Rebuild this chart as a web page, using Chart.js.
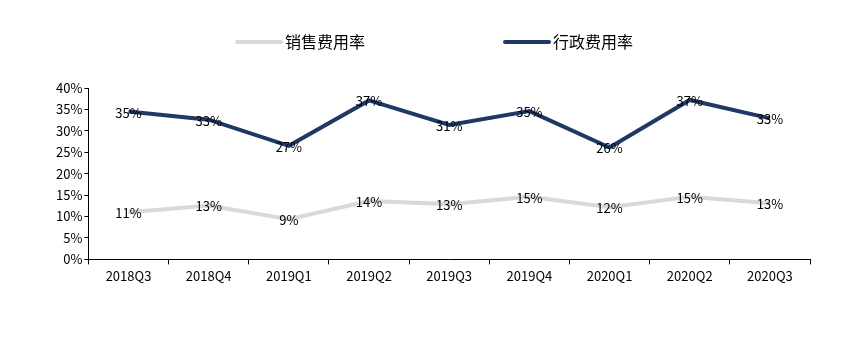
<!DOCTYPE html>
<html>
<head>
<meta charset="utf-8">
<script src="https://cdn.jsdelivr.net/npm/chart.js@4/dist/chart.umd.min.js"></script>
<style>
    html, body { margin: 0; padding: 0; background: #fff; }
    #wrap { width: 850px; height: 354px; }
</style>
</head>
<body>
<div id="wrap"><canvas id="lineChart"></canvas></div>
<script>
const quarters = ['2018Q3', '2018Q4', '2019Q1', '2019Q2', '2019Q3', '2019Q4', '2020Q1', '2020Q2', '2020Q3'];
const salesRate = [11.0, 12.6, 9.4, 13.6, 12.9, 14.6, 12.2, 14.6, 13.1];
const adminRate = [34.5, 32.6, 26.5, 37.1, 31.4, 34.6, 26.1, 37.2, 32.9];
const yTicks = [0, 5, 10, 15, 20, 25, 30, 35, 40];

const fontFamily = '"Noto Sans CJK SC", "DejaVu Sans", sans-serif';

// draws the rounded value on top of each point
const pointLabels = {
    id: 'pointLabels',
    afterDatasetsDraw(chart) {
        const ctx = chart.ctx;
        ctx.save();
        ctx.font = '13px ' + fontFamily;
        ctx.fillStyle = '#000';
        ctx.textAlign = 'center';
        ctx.textBaseline = 'middle';
        chart.data.datasets.forEach((ds, i) => {
            chart.getDatasetMeta(i).data.forEach((pt, j) => {
                ctx.fillText(Math.round(ds.data[j]) + '%', pt.x, pt.y + 1);
            });
        });
        ctx.restore();
    }
};

// legend with wide gap between the two items, like the source
const wideLegend = {
    id: 'wideLegend',
    afterDraw(chart) {
        const ctx = chart.ctx;
        const gap = 140;
        const lineLen = 44;
        ctx.save();
        ctx.font = '16px ' + fontFamily;
        ctx.textBaseline = 'middle';
        const items = chart.data.datasets.map(ds => ({
            ds, w: lineLen + 4 + ctx.measureText(ds.label).width
        }));
        const total = items.reduce((s, it) => s + it.w, 0) + gap * (items.length - 1);
        let x = (chart.width - total) / 2 + 10;
        const y = 42;
        items.forEach(it => {
            ctx.strokeStyle = it.ds.borderColor;
            ctx.lineWidth = 4;
            ctx.lineCap = 'round';
            ctx.beginPath();
            ctx.moveTo(x, y);
            ctx.lineTo(x + lineLen, y);
            ctx.stroke();
            ctx.fillStyle = '#000';
            ctx.fillText(it.ds.label, x + lineLen + 4, y);
            x += it.w + gap;
        });
        ctx.restore();
    }
};

new Chart(document.getElementById('lineChart').getContext('2d'), {
    type: 'line',
    data: {
        labels: quarters,
        datasets: [{
            label: '销售费用率',
            data: salesRate,
            borderColor: '#d9d9d9',
            backgroundColor: '#d9d9d9',
            borderWidth: 4,
            pointRadius: 0,
            fill: false
        }, {
            label: '行政费用率',
            data: adminRate,
            borderColor: '#203864',
            backgroundColor: '#203864',
            borderWidth: 4,
            pointRadius: 0,
            fill: false
        }]
    },
    options: {
        responsive: true,
        maintainAspectRatio: false,
        animation: false,
        layout: { padding: { left: 54, right: 40, top: 88, bottom: 66 } },
        plugins: {
            tooltip: { enabled: false },
            legend: { display: false }
        },
        scales: {
            x: {
                offset: true,
                grid: {
                    offset: true,
                    drawOnChartArea: false,
                    drawTicks: true,
                    tickLength: 5,
                    color: '#000'
                },
                border: { color: '#000', width: 1 },
                ticks: {
                    color: '#000',
                    padding: 4,
                    font: { size: 13, family: fontFamily }
                }
            },
            y: {
                min: 0,
                max: 40,
                afterBuildTicks: axis => { axis.ticks = yTicks.map(v => ({ value: v })); },
                grid: {
                    drawOnChartArea: false,
                    drawTicks: true,
                    tickLength: 4,
                    color: '#000'
                },
                border: { color: '#000', width: 1 },
                ticks: {
                    autoSkip: false,
                    color: '#000',
                    padding: 2,
                    font: { size: 13, family: fontFamily },
                    callback: v => v + '%'
                }
            }
        }
    },
    plugins: [pointLabels, wideLegend]
});
</script>
</body>
</html>
